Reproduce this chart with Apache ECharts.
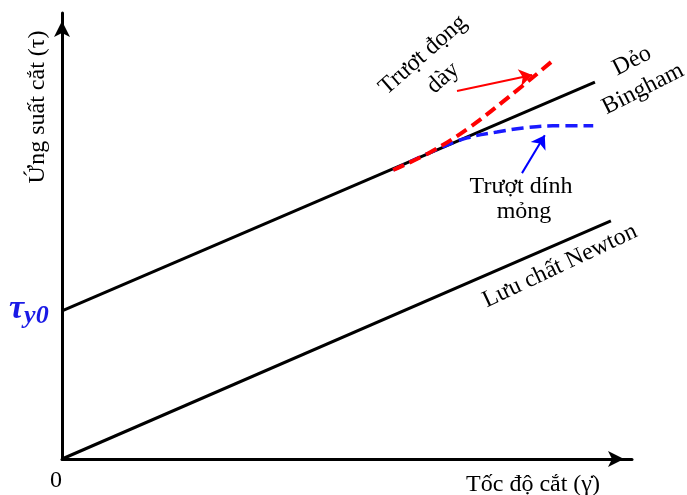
<!DOCTYPE html>
<html><head><meta charset="utf-8">
<script src="https://cdn.jsdelivr.net/npm/echarts@6/dist/echarts.min.js"></script>
<style>html,body{margin:0;padding:0;background:#fff}#c{width:687px;height:495px}</style>
</head><body><div id="c"></div>
<script>
// Data (axis units: x 0-10, y 0-10)
const binghamX = [0, 9.35];
const binghamY = [3.32, 8.45];
const newtonX = [0, 9.63];
const newtonY = [0, 5.34];
const thickSlipX = [5.81, 6.46, 7.11, 7.86, 8.60];
const thickSlipY = [6.48, 6.88, 7.40, 8.14, 8.92];
const thinSlipX = [5.81, 6.63, 7.11, 7.63, 8.09, 8.61, 9.32];
const thinSlipY = [6.48, 6.97, 7.20, 7.33, 7.42, 7.47, 7.47];
const redArrow = [[6.93, 8.25], [8.25, 8.61]];
const blueArrow = [[8.07, 6.41], [8.47, 7.26]];

const zip = (xs, ys) => xs.map((x, i) => [x, ys[i]]);
const serif = '"Liberation Serif", "DejaVu Serif", serif';
const F = '24px ' + serif;

const chart = echarts.init(document.getElementById('c'));
chart.setOption({
  animation: false,
  grid: {left: 62, right: 55, top: 13, bottom: 36},
  xAxis: {
    type: 'value', min: 0, max: 10,
    axisLine: {show: true, onZero: false, lineStyle: {color: '#000', width: 3}, symbol: ['none', 'arrow'], symbolSize: [12, 16], symbolOffset: [0, -8]},
    axisTick: {show: false}, axisLabel: {show: false}, splitLine: {show: false}
  },
  yAxis: {
    type: 'value', min: 0, max: 10,
    axisLine: {show: true, onZero: false, lineStyle: {color: '#000', width: 3}, symbol: ['none', 'arrow'], symbolSize: [12, 16], symbolOffset: [0, -8]},
    axisTick: {show: false}, axisLabel: {show: false}, splitLine: {show: false}
  },
  series: [
    {type: 'line', data: zip(binghamX, binghamY), symbol: 'none', lineStyle: {color: '#000', width: 3}, z: 3},
    {type: 'line', data: zip(newtonX, newtonY), symbol: 'none', lineStyle: {color: '#000', width: 3}, z: 3},
    {type: 'line', data: zip(thinSlipX, thinSlipY), symbol: 'none', smooth: 0.4, lineStyle: {color: '#1a1aff', width: 3.5, type: [12, 6]}, z: 4},
    {type: 'line', data: zip(thickSlipX, thickSlipY), symbol: 'none', smooth: 0.4, lineStyle: {color: '#ff0000', width: 4, type: [12, 6]}, z: 5},
    {type: 'lines', coordinateSystem: 'cartesian2d', symbol: ['none', 'arrow'], symbolSize: 13,
      data: [{coords: redArrow, lineStyle: {color: '#ff0000'}}, {coords: blueArrow, lineStyle: {color: '#0000ff'}}],
      lineStyle: {width: 2, opacity: 1}, z: 6}
  ],
  graphic: [
    {type: 'text', x: 38, y: 107, rotation: Math.PI / 2, style: {text: 'Ứng suất cắt (τ)', font: F, fill: '#000', align: 'center', verticalAlign: 'middle'}},
    {type: 'text', x: 9, y: 309, style: {
      text: '{t|τ}{s|y0}', verticalAlign: 'middle',
      rich: {t: {font: 'italic bold 34px ' + serif, fill: '#1a1ae6'}, s: {font: 'italic bold 26px ' + serif, fill: '#1a1ae6', padding: [14, 0, 0, 0]}}
    }},
    {type: 'text', x: 56, y: 481, style: {text: '0', font: F, fill: '#000', align: 'center', verticalAlign: 'middle'}},
    {type: 'text', x: 533, y: 485, style: {text: 'Tốc độ cắt (γ̇)', font: F, fill: '#000', align: 'center', verticalAlign: 'middle'}},
    {type: 'text', x: 423, y: 55, rotation: 0.72, style: {text: 'Trượt đọng', font: F, fill: '#000', align: 'center', verticalAlign: 'middle'}},
    {type: 'text', x: 443, y: 78, rotation: 0.72, style: {text: 'dày', font: F, fill: '#000', align: 'center', verticalAlign: 'middle'}},
    {type: 'text', x: 632, y: 61, rotation: 0.47, style: {text: 'Dẻo', font: F, fill: '#000', align: 'center', verticalAlign: 'middle'}},
    {type: 'text', x: 643, y: 89, rotation: 0.47, style: {text: 'Bingham', font: F, fill: '#000', align: 'center', verticalAlign: 'middle'}},
    {type: 'text', x: 521, y: 187, style: {text: 'Trượt dính', font: F, fill: '#000', align: 'center', verticalAlign: 'middle'}},
    {type: 'text', x: 524, y: 212, style: {text: 'mỏng', font: F, fill: '#000', align: 'center', verticalAlign: 'middle'}},
    {type: 'text', x: 560, y: 266, rotation: 0.44, style: {text: 'Lưu chất Newton', font: F, fill: '#000', align: 'center', verticalAlign: 'middle'}}
  ]
});
</script>
</body></html>
